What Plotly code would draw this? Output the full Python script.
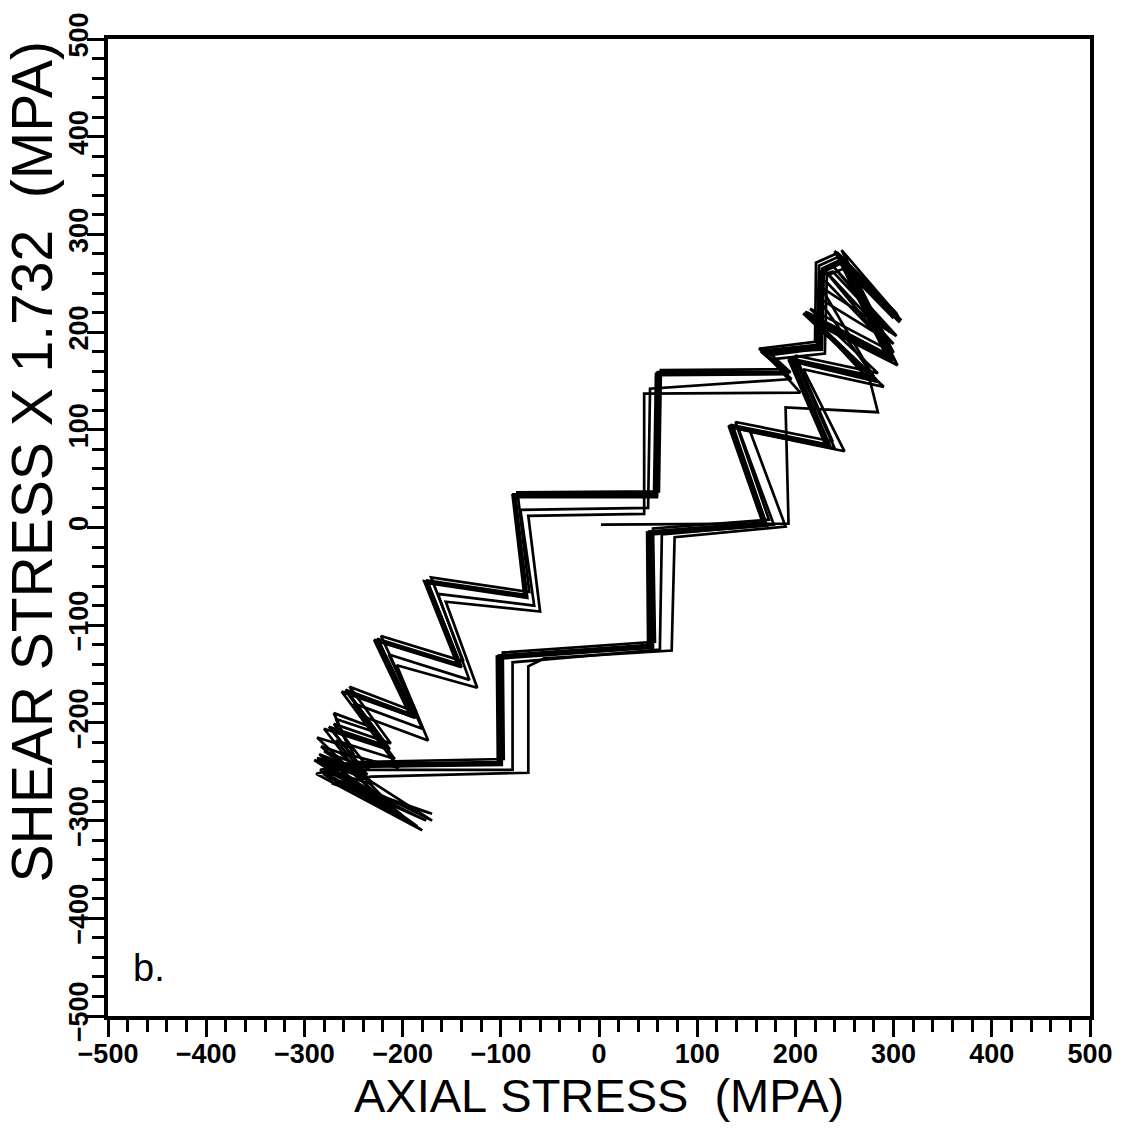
import plotly.graph_objects as go

# Axial / shear stress path, one trace per cycle.
# Each cycle: upper branch (top-right cluster -> bottom-left cluster),
# then lower branch (bottom-left cluster -> top-right cluster).

# first loading from the origin, followed by the first full cycle
cyc1_x = [2, 193, 190, 284, 276, 212, 296, 244, 303,
          306, 252, 232, 230, 175, 205, 46, 46, -72, -60, -156, -124, -206, -174, -244, -204, -264, -222, -276, -170,
          -272, -232, -72, -72, -56, 74, 77, 190, 154, 250, 208, 290, 222, 304, 254, 306]
cyc1_y = [3, 4, 123, 118, 150, 220, 176, 280, 219,
          210, 266, 258, 178, 172, 138, 137, 14, 12, -86, -76, -164, -141, -218, -192, -246, -230, -274, -256, -293,
          -262, -255, -251, -142, -134, -126, -10, 1, 98, 78, 162, 144, 208, 166, 268, 210]

cyc2_x = [300, 244, 226, 224, 170, 196, 52, 50, -80, -66, -164, -132, -214, -180, -250, -208, -268, -230, -280, -176,
          -278, -242, -88, -88, 62, 64, 178, 142, 240, 201, 284, 216, 300, 249, 300]
cyc2_y = [214, 272, 262, 183, 176, 152, 142, 20, 18, -80, -68, -156, -130, -206, -180, -237, -218, -263, -248, -300,
          -254, -248, -248, -138, -125, -7, 3, 101, 81, 169, 149, 213, 171, 273, 214]

cyc3_x = [302, 246, 224, 222, 166, 190, 59, 57, -87, -75, -176, -142, -226, -189, -258, -215, -275, -238, -285, -190,
          -284, -250, -101, -102, 52, 51, 169, 134, 233, 195, 279, 210, 295, 242, 302]
cyc3_y = [220, 278, 268, 187, 181, 158, 158, 34, 34, -69, -54, -140, -114, -192, -166, -224, -204, -250, -232, -303,
          -248, -242, -240, -131, -120, -4, 5, 105, 85, 173, 155, 221, 176, 281, 220]

cyc4_x = [305, 248, 227, 225, 168, 193, 61, 59, -85, -73, -174, -140, -224, -187, -256, -213, -272, -236, -282, -185,
          -281, -248, -99, -99, 55, 53, 171, 137, 236, 198, 282, 213, 298, 245, 305]
cyc4_y = [216, 275, 265, 184, 178, 157, 156, 31, 31, -72, -57, -143, -117, -195, -169, -227, -207, -253, -236, -306,
          -252, -245, -243, -134, -123, -7, 2, 102, 82, 170, 152, 218, 173, 278, 216]

cyc5_x = [299, 243, 221, 220, 163, 188, 63, 61, -83, -71, -171, -138, -222, -186, -254, -212, -270, -234, -280, -170,
          -279, -246, -97, -98, 57, 55, 173, 139, 238, 200, 284, 215, 300, 247, 299]
cyc5_y = [223, 281, 271, 190, 183, 162, 161, 37, 36, -66, -51, -137, -111, -189, -163, -221, -201, -247, -229, -300,
          -245, -240, -237, -128, -117, -1, 8, 108, 88, 176, 158, 224, 179, 284, 223]

cyc6_x = [308, 250, 229, 227, 172, 195, 58, 56, -88, -76, -178, -144, -229, -192, -262, -219, -280, -242, -290, -180,
          -288, -255, -103, -104, 50, 49, 167, 132, 231, 193, 277, 208, 293, 240, 308]
cyc6_y = [212, 272, 262, 182, 180, 159, 157, 33, 33, -70, -55, -141, -115, -193, -168, -226, -206, -255, -238, -310,
          -252, -244, -241, -132, -121, -5, 4, 104, 84, 172, 154, 219, 175, 283, 212]

cyc7_x = [296, 238, 226, 224, 168, 192, 60, 58, -86, -74, -175, -141, -225, -188, -257, -226, -268, -248, -283, -200,
          -286, -250, -100, -101, 54, 52, 170, 135, 234, 196, 280, 226, 303, 236, 296]
cyc7_y = [200, 262, 258, 186, 179, 159, 159, 35, 33, -70, -55, -141, -115, -193, -167, -210, -196, -236, -224, -295,
          -240, -243, -241, -132, -121, -5, 4, 104, 84, 172, 154, 246, 196, 270, 200]

cyc8_x = [290, 231, 225, 223, 165, 191, 60, 59, -86, -74, -175, -141, -226, -189, -258, -230, -270, -255, -287, -210,
          -287, -252, -101, -102, 53, 52, 170, 135, 234, 196, 280, 222, 300, 231, 290]
cyc8_y = [190, 252, 250, 185, 180, 158, 157, 33, 32, -71, -56, -142, -116, -194, -167, -205, -190, -225, -215, -290,
          -236, -243, -242, -133, -122, -6, 4, 104, 84, 172, 154, 236, 188, 262, 190]

cycles = [(cyc1_x, cyc1_y), (cyc2_x, cyc2_y), (cyc3_x, cyc3_y), (cyc4_x, cyc4_y),
          (cyc5_x, cyc5_y), (cyc6_x, cyc6_y), (cyc7_x, cyc7_y), (cyc8_x, cyc8_y)]

major_ticks = list(range(-500, 501, 100))

fig = go.Figure()
for cx, cy in cycles:
    fig.add_trace(go.Scatter(x=cx, y=cy, mode="lines",
                             line=dict(color="black", width=2.7),
                             hoverinfo="skip", showlegend=False))

tick_font = dict(family="Liberation Sans, Arial, sans-serif", size=27, color="black", weight="bold")
title_font = "Liberation Sans, Arial, sans-serif"

axis_common = dict(
    range=[-500, 500],
    tickmode="array",
    tickvals=major_ticks,
    ticks="outside",
    ticklen=17,
    tickwidth=3,
    tickcolor="black",
    showline=True,
    linewidth=3.5,
    linecolor="black",
    mirror=True,
    showgrid=False,
    zeroline=False,
    tickfont=tick_font,
    minor=dict(dtick=20, tick0=0, ticks="outside", ticklen=12, tickwidth=3,
               tickcolor="black", showgrid=False),
)

fig.update_layout(
    width=1125,
    height=1129,
    margin=dict(l=108, r=33, t=32, b=113),
    paper_bgcolor="white",
    plot_bgcolor="white",
    xaxis=dict(**axis_common, ticklabelstandoff=-6),
    yaxis=dict(**axis_common, tickangle=-90, ticklabelstandoff=-12),
    annotations=[
        dict(text="AXIAL\u00a0STRESS\u00a0\u00a0(MPA)", xref="paper", yref="paper",
             x=0.5, y=-0.0815, xanchor="center", yanchor="middle", showarrow=False,
             font=dict(family=title_font, size=47, color="black")),
        dict(text="SHEAR\u00a0STRESS\u00a0X\u00a01.732\u00a0\u00a0(MPA)", xref="paper", yref="paper",
             x=-0.077, y=0.568, xanchor="center", yanchor="middle", textangle=-90, showarrow=False,
             font=dict(family=title_font, size=57, color="black")),
        dict(text="b.", xref="x", yref="y", x=-477, y=-451, xanchor="left", yanchor="middle",
             showarrow=False, font=dict(family=title_font, size=38, color="black")),
    ],
)

fig.write_html("out.html")
